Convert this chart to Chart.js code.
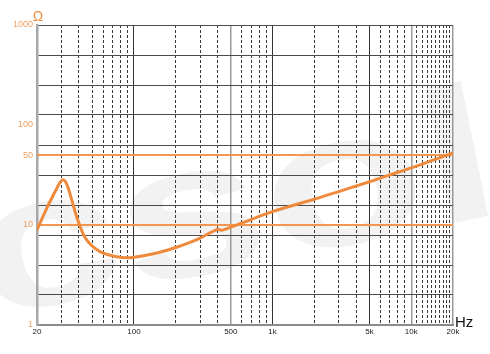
<!DOCTYPE html>
<html>
<head>
<meta charset="utf-8">
<script src="https://cdn.jsdelivr.net/npm/chart.js@4/dist/chart.umd.min.js"></script>
<style>
  html, body { margin: 0; padding: 0; background: #fff; }
</style>
</head>
<body>
<canvas id="impedance-chart" width="490" height="354"></canvas>
<script>
// Impedance curve, log/log
const freqHz = [20, 23.5, 27, 29.3, 30.6, 31.8, 33.2, 34.6, 37, 39.7, 45.6, 56.9, 75, 93, 117, 154, 203, 254, 300, 350, 385, 405, 430, 470, 582, 1000, 2000, 3000, 5000, 7000, 10000, 14000, 20000];
const impedanceOhm = [8.9, 14.7, 21.5, 26.6, 28.3, 27.6, 24.5, 20.5, 14.8, 10.8, 7.08, 5.41, 4.82, 4.71, 4.93, 5.34, 5.99, 6.7, 7.4, 8.3, 8.85, 9.05, 8.85, 9.2, 10.3, 13.6, 18.1, 21.6, 27.1, 31.7, 37.3, 44.0, 52.6];
const refLevels = [10, 50];

const xLabelTicks = [20, 100, 500, 1000, 5000, 10000, 20000];
const xMinorLines = [30, 40, 50, 60, 70, 80, 90, 200, 300, 400, 600, 700, 800, 900,
    2000, 3000, 4000, 6000, 7000, 8000, 9000,
    11000, 12000, 13000, 14000, 15000, 16000, 17000, 18000, 19000];
const yGridLines = [1, 2, 3.98, 7.94, 15.8, 31.6, 63, 126, 251, 501, 1000];
const yLabelTicks = [1, 10, 50, 100, 1000];

const FONT = '"Liberation Sans", Arial, sans-serif';
const ORANGE = '#ef8a3c';

const fmtHz = (v) => v >= 1000 ? (v / 1000) + 'k' : String(v);

const textOverlay = {
    id: 'textOverlay',
    beforeDraw(chart) {
        // faint watermark behind the grid
        const { ctx } = chart;
        ctx.save();
        ctx.translate(-15, 318);
        ctx.rotate(-0.2);
        ctx.scale(1.4, 1);
        ctx.fillStyle = 'rgba(0,0,0,0.05)';
        ctx.font = 'bold 190px ' + FONT;
        ctx.textBaseline = 'alphabetic';
        ctx.fillText('csol', 0, 0);
        ctx.restore();
    },
    afterDraw(chart) {
        const { ctx, chartArea } = chart;
        ctx.save();
        ctx.fillStyle = ORANGE;
        ctx.font = '14px ' + FONT;
        ctx.textAlign = 'center';
        ctx.textBaseline = 'middle';
        ctx.fillText('Ω', chartArea.left + 1, chartArea.top - 8);
        ctx.fillStyle = '#111';
        ctx.font = '15px ' + FONT;
        ctx.textAlign = 'left';
        ctx.fillText('Hz', chartArea.right + 2, chartArea.bottom - 2);
        ctx.restore();
    }
};

const refDatasets = refLevels.map(level => ({
    data: [{ x: 20, y: level }, { x: 20000, y: level }],
    borderColor: '#f3964f',
    borderWidth: 2,
    pointRadius: 0,
    tension: 0,
    order: 2
}));

new Chart(document.getElementById('impedance-chart'), {
    type: 'line',
    data: {
        datasets: [
            {
                data: freqHz.map((f, i) => ({ x: f, y: impedanceOhm[i] })),
                borderColor: ORANGE,
                borderWidth: 3,
                pointRadius: 0,
                tension: 0.35,
                order: 1
            },
            ...refDatasets
        ]
    },
    options: {
        responsive: false,
        animation: false,
        layout: { padding: { top: 25, right: 37, left: 0, bottom: 0 } },
        plugins: {
            legend: { display: false },
            tooltip: { enabled: false }
        },
        scales: {
            x: {
                type: 'logarithmic',
                position: 'bottom',
                min: 20,
                max: 20000,
                weight: 2,
                afterBuildTicks: (scale) => { scale.ticks = xLabelTicks.map(v => ({ value: v })); },
                afterFit: (scale) => { scale.height = 29; },
                ticks: {
                    autoSkip: false,
                    maxRotation: 0,
                    padding: 2,
                    color: '#222',
                    font: { family: FONT, size: 8 },
                    callback: (v) => fmtHz(v)
                },
                grid: {
                    drawTicks: false,
                    lineWidth: (c) => (c.tick && (c.tick.value === 500 || c.tick.value === 10000 || c.tick.value === 20000)) ? 1.5 : 1,
                    color: (c) => {
                        const v = c.tick && c.tick.value;
                        if (v === 20) return 'transparent';
                        if (v === 500 || v === 10000 || v === 20000) return '#9a9a9a';
                        return '#333';
                    }
                },
                border: { color: '#8a8a8a', width: 2 }
            },
            xMinor: {
                type: 'logarithmic',
                position: 'bottom',
                min: 20,
                max: 20000,
                weight: 1,
                afterBuildTicks: (scale) => { scale.ticks = xMinorLines.map(v => ({ value: v })); },
                afterFit: (scale) => { scale.height = 0; },
                ticks: { display: false, autoSkip: false },
                grid: { drawTicks: false, color: '#3a3a3a', lineWidth: 1 },
                border: { display: false, dash: [3, 2] }
            },
            y: {
                type: 'logarithmic',
                min: 1,
                max: 1000,
                afterBuildTicks: (scale) => {
                    const all = [...new Set([...yGridLines, ...yLabelTicks])].sort((a, b) => a - b);
                    scale.ticks = all.map(v => ({ value: v }));
                },
                afterFit: (scale) => { scale.width = 37; },
                ticks: {
                    autoSkip: false,
                    padding: 4,
                    color: '#f0a060',
                    font: { family: FONT, size: 9 },
                    callback: (v) => yLabelTicks.includes(v) ? String(v) : ''
                },
                grid: {
                    drawTicks: false,
                    lineWidth: 1,
                    color: (c) => (c.tick && yGridLines.includes(c.tick.value)) ? '#4a4a4a' : 'transparent'
                },
                border: { color: '#a8a8a8', width: 2.5 }
            }
        }
    },
    plugins: [textOverlay]
});
</script>
</body>
</html>
